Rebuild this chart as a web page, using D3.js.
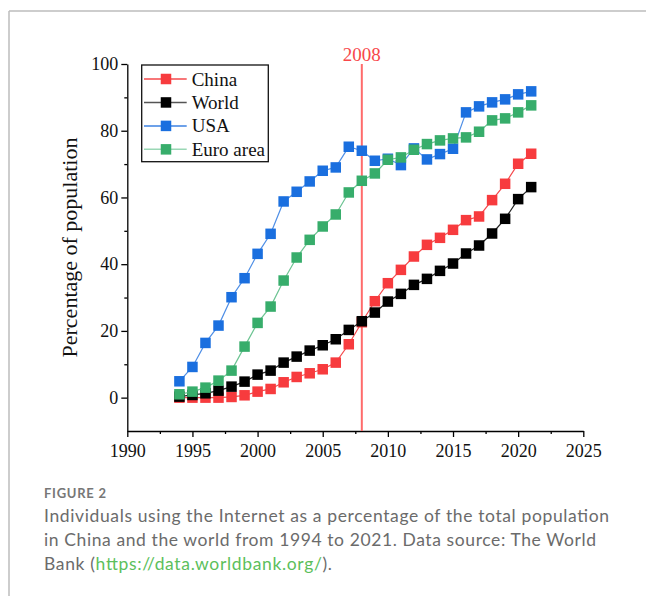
<!DOCTYPE html>
<html>
<head>
<meta charset="utf-8">
<script src="https://cdn.jsdelivr.net/npm/d3@7"></script>
<style>
  body { margin: 0; background: #fff; }
  svg { display: block; }
</style>
</head>
<body>
<div id="chart"></div>
<script>
// data (World Bank, % of population using internet)
const years = d3.range(1994, 2022);
const china = [0.0, 0.0, 0.0, 0.0, 0.2, 0.7, 1.8, 2.6, 4.6, 6.2, 7.3, 8.5, 10.5, 16.0, 22.6, 28.9, 34.3, 38.3, 42.3, 45.8, 47.9, 50.3, 53.2, 54.3, 59.2, 64.1, 70.1, 73.1];
const world = [0.3, 0.8, 1.3, 2.1, 3.3, 4.8, 6.9, 8.1, 10.5, 12.3, 14.1, 15.7, 17.5, 20.3, 22.9, 25.5, 28.8, 31.1, 33.8, 35.6, 38.0, 40.2, 43.2, 45.6, 49.2, 53.6, 59.5, 63.1];
const usa = [4.9, 9.2, 16.4, 21.6, 30.1, 35.8, 43.1, 49.1, 58.8, 61.7, 64.8, 68.0, 69.0, 75.2, 74.0, 71.0, 71.6, 69.7, 74.7, 71.4, 73.0, 74.6, 85.5, 87.3, 88.5, 89.4, 90.9, 91.8];
const euro = [1.0, 1.8, 3.0, 5.1, 8.1, 15.3, 22.4, 27.3, 35.1, 42.0, 47.3, 51.3, 54.9, 61.5, 65.0, 67.2, 71.3, 72.0, 74.3, 76.0, 77.1, 77.7, 78.0, 79.7, 83.1, 83.7, 85.5, 87.6];

const xTicks = d3.range(1990, 2026, 5);
const yTicks = [0, 20, 40, 60, 80, 100];
const markYear = 2008;

const series = [
    { name: "China", values: china, fill: "#f73b3e", line: "#f54a4d", legLine: "#f54a4d" },
    { name: "World", values: world, fill: "#000000", line: "#222222", legLine: "#555555" },
    { name: "USA", values: usa, fill: "#1a6fdf", line: "#4f8fe6", legLine: "#3d82e2" },
    { name: "Euro area", values: euro, fill: "#37ad6b", line: "#6cc492", legLine: "#9ad7b5" }
];

const W = 646, H = 596;
const svg = d3.select("#chart").append("svg")
    .attr("width", W)
    .attr("height", H);

// frame around the figure (top + left only)
svg.append("line").attr("x1", 9).attr("x2", W).attr("y1", 11).attr("y2", 11)
    .attr("stroke", "#bdbdbd").attr("stroke-width", 1.5);
svg.append("line").attr("x1", 9).attr("x2", 9).attr("y1", 11).attr("y2", H)
    .attr("stroke", "#bdbdbd").attr("stroke-width", 1.5);

const x = d3.scaleLinear().domain([1990, 2025]).range([127.3, 583.3]);
const y = d3.scaleLinear().domain([-10, 100]).range([431, 64]);

const serif = "'Liberation Serif', 'Times New Roman', serif";

// x axis
const gx = svg.append("g").attr("transform", "translate(0,431)");
gx.call(d3.axisBottom(x).tickValues(xTicks).tickFormat(d3.format("d"))
    .tickSize(6).tickSizeOuter(0).tickPadding(7));
gx.append("g").call(d3.axisBottom(x).tickValues(xTicks.slice(0, -1).map(d => d + 2.5))
    .tickSize(3).tickFormat("")).select(".domain").remove();

// y axis
const gy = svg.append("g").attr("transform", "translate(127.3,0)");
gy.call(d3.axisLeft(y).tickValues(yTicks).tickSize(6).tickSizeOuter(0).tickPadding(3));
gy.append("g").call(d3.axisLeft(y).tickValues([10, 30, 50, 70, 90])
    .tickSize(3).tickFormat("")).select(".domain").remove();

svg.selectAll(".domain, .tick line").attr("stroke", "#000").attr("stroke-width", 1.3);
svg.selectAll(".tick text")
    .attr("fill", "#111")
    .style("font-family", serif)
    .style("font-size", "18px");

// axis title
svg.append("text")
    .attr("transform", "translate(76.5,247.5) rotate(-90)")
    .attr("text-anchor", "middle")
    .style("font-family", serif)
    .style("font-size", "22px")
    .attr("fill", "#111")
    .text("Percentage of population");

// 2008 marker line
svg.append("line")
    .attr("x1", x(markYear)).attr("x2", x(markYear))
    .attr("y1", y(100)).attr("y2", y(-10))
    .attr("stroke", "#ff6b6b")
    .attr("stroke-width", 2);
svg.append("text")
    .attr("x", x(markYear))
    .attr("y", 60.7)
    .attr("text-anchor", "middle")
    .attr("fill", "#f8474a")
    .style("font-family", serif)
    .style("font-size", "19px")
    .text(markYear);

// lines and square markers
const line = d3.line().x((d, i) => x(years[i])).y(d => y(d));
const ms = 10.5;

series.forEach(s => {
    svg.append("path")
        .datum(s.values)
        .attr("d", line)
        .attr("fill", "none")
        .attr("stroke", s.line)
        .attr("stroke-width", 1.2);
    svg.append("g")
        .selectAll("rect")
        .data(s.values)
        .join("rect")
        .attr("x", (d, i) => x(years[i]) - ms / 2)
        .attr("y", d => y(d) - ms / 2)
        .attr("width", ms)
        .attr("height", ms)
        .attr("fill", s.fill);
});

// legend
const leg = svg.append("g");
leg.append("rect")
    .attr("x", 141.7).attr("y", 65)
    .attr("width", 126.6).attr("height", 96.7)
    .attr("fill", "#fff")
    .attr("stroke", "#111")
    .attr("stroke-width", 1.3);

series.forEach((s, i) => {
    const ly = 79 + i * 23.45;
    leg.append("line")
        .attr("x1", 144).attr("x2", 186.7)
        .attr("y1", ly).attr("y2", ly)
        .attr("stroke", s.legLine)
        .attr("stroke-width", 1.5);
    leg.append("rect")
        .attr("x", 166 - ms / 2).attr("y", ly - ms / 2)
        .attr("width", ms).attr("height", ms)
        .attr("fill", s.fill);
    leg.append("text")
        .attr("x", 191.7)
        .attr("y", ly + 6.5)
        .attr("fill", "#111")
        .style("font-family", serif)
        .style("font-size", "19px")
        .text(s.name);
});

// caption below the chart
const sans = "Lato, 'Open Sans', sans-serif";
svg.append("text")
    .attr("x", 44).attr("y", 497.7)
    .attr("textLength", 62)
    .attr("fill", "#777")
    .style("font-family", sans)
    .style("font-size", "13px")
    .style("font-weight", "bold")
    .text("FIGURE 2");

const capLines = [
    { t: "Individuals using the Internet as a percentage of the total population", y: 521.7, len: 565 },
    { t: "in China and the world from 1994 to 2021. Data source: The World", y: 545.7, len: 552 }
];
capLines.forEach(c => {
    svg.append("text")
        .attr("x", 44).attr("y", c.y)
        .attr("textLength", c.len)
        .attr("fill", "#6b6b6b")
        .style("font-family", sans)
        .style("font-size", "17.5px")
        .text(c.t);
});

const last = svg.append("text")
    .attr("x", 44).attr("y", 569.5)
    .attr("textLength", 288)
    .attr("fill", "#6b6b6b")
    .style("font-family", sans)
    .style("font-size", "17.5px");
last.append("tspan").text("Bank (");
last.append("tspan").attr("fill", "#5cbf5c").text("https://data.worldbank.org/");
last.append("tspan").text(").");
</script>
</body>
</html>
